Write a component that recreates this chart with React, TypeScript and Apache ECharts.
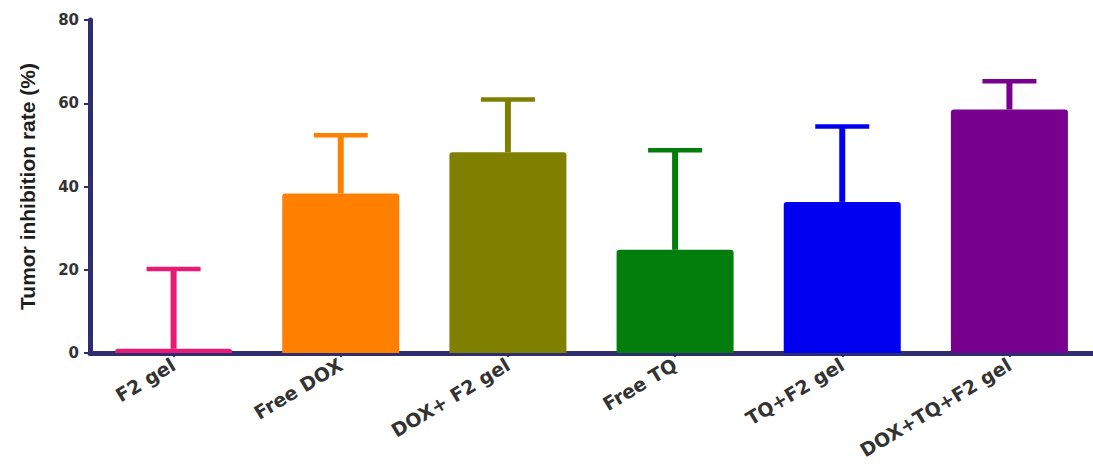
import React, { useEffect, useRef } from "react";
import * as echarts from "echarts";

const categories = ["F2 gel", "Free DOX", "DOX+ F2 gel", "Free TQ", "TQ+F2 gel", "DOX+TQ+F2 gel"];
const means = [1, 38.3, 48.2, 24.8, 36.3, 58.5];
const upper = [20.2, 52.3, 60.9, 48.7, 54.4, 65.3];
const colors = ["#e81a78", "#ff8000", "#808000", "#037d0c", "#0000f0", "#78008f"];
const yTicks = [0, 20, 40, 60, 80];

export default function App() {
  const ref = useRef<HTMLDivElement>(null);
  useEffect(() => {
    if (!ref.current) return;
    const chart = echarts.init(ref.current, undefined, { renderer: "svg" });
    const axisColor = "#2d2d70";
    chart.setOption({
      animation: false,
      backgroundColor: "#ffffff",
      grid: { left: 90, right: 0, top: 20, bottom: 111, containLabel: false },
      xAxis: {
        type: "category",
        data: categories,
        axisLine: { show: true, lineStyle: { color: axisColor, width: 5 } },
        axisTick: { show: true, alignWithLabel: true, length: 4, lineStyle: { color: axisColor, width: 2 } },
        axisLabel: {
          rotate: 31,
          interval: 0,
          margin: 10,
          color: "#333333",
          fontSize: 19,
          fontWeight: "bold",
          fontFamily: "DejaVu Sans, Verdana, sans-serif",
        },
      },
      yAxis: {
        type: "value",
        min: yTicks[0],
        max: yTicks[yTicks.length - 1],
        interval: 20,
        name: "Tumor inhibition rate (%)",
        nameLocation: "middle",
        nameGap: 52,
        nameTextStyle: {
          color: "#1e1e1e",
          fontSize: 21,
          fontWeight: "bold",
          fontFamily: "Liberation Sans, Arial, sans-serif",
        },
        splitLine: { show: false },
        axisLine: { show: true, lineStyle: { color: axisColor, width: 5 } },
        axisTick: { show: true, length: 6, lineStyle: { color: axisColor, width: 2 } },
        axisLabel: {
          margin: 11,
          color: "#333333",
          fontSize: 15,
          fontWeight: "bold",
          fontFamily: "DejaVu Sans, Verdana, sans-serif",
        },
      },
      series: [
        {
          type: "bar",
          barWidth: "70%",
          data: means.map((v, i) => ({ value: v, itemStyle: { color: colors[i], borderRadius: [3, 3, 0, 0] } })),
          z: 2,
        },
        {
          type: "custom",
          z: 3,
          data: means.map((v, i) => [i, v, upper[i]]),
          encode: { x: 0, y: [1, 2] },
          renderItem: (params: any, api: any) => {
            const idx = api.value(0);
            const lo = api.coord([idx, api.value(1)]);
            const hi = api.coord([idx, api.value(2)]);
            const c = colors[idx];
            const half = 27;
            return {
              type: "group",
              children: [
                {
                  type: "line",
                  shape: { x1: lo[0], y1: lo[1], x2: hi[0], y2: hi[1] },
                  style: { stroke: c, lineWidth: 6 },
                },
                {
                  type: "line",
                  shape: { x1: hi[0] - half, y1: hi[1], x2: hi[0] + half, y2: hi[1] },
                  style: { stroke: c, lineWidth: 4.5 },
                },
              ],
            };
          },
        },
      ],
    });
    return () => chart.dispose();
  }, []);
  return <div ref={ref} style={{ position: "fixed", left: 0, top: 0, width: 1093, height: 464 }} />;
}
